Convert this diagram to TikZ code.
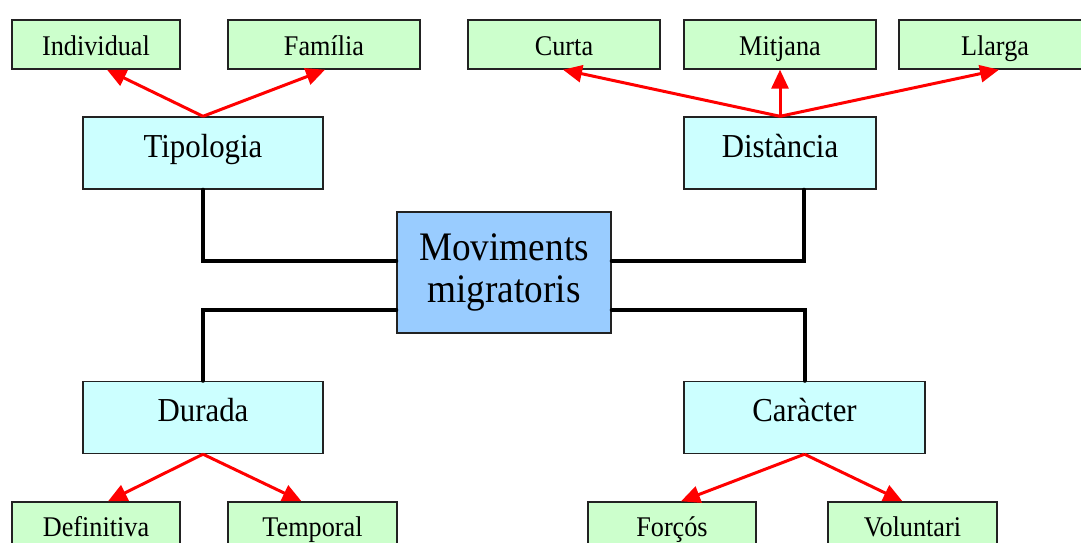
\documentclass[tikz,border=0pt]{standalone}
\usepackage{fontspec}
\setmainfont{Liberation Serif}[FakeStretch=0.92]
\usetikzlibrary{arrows.meta}
\definecolor{leafgreen}{HTML}{CCFFCC}
\definecolor{midcyan}{HTML}{CCFFFF}
\definecolor{mainblue}{HTML}{99CCFF}
\definecolor{edgegray}{HTML}{222222}
\tikzset{
  box/.style={draw=edgegray, line width=1.4pt, inner sep=0pt, align=center},
  leaf/.style={box, fill=leafgreen, minimum width=168pt, text height=36pt, text depth=13pt, font=\fontsize{28.5}{32}\selectfont},
  leafb/.style={leaf, text height=34pt, text depth=15pt},
  midbox/.style={box, fill=midcyan, minimum width=240pt, text height=40pt, text depth=32pt, font=\fontsize{33.5}{38}\selectfont},
  mainbox/.style={box, fill=mainblue, minimum width=214pt, minimum height=121pt, font=\fontsize{40.5}{42}\selectfont},
  conn/.style={line width=4pt, line cap=round, black},
  redarrow/.style={line width=3pt, red, -{Triangle[length=19pt,width=17pt]}}
}
\begin{document}
\begin{tikzpicture}[x=1pt, y=-1pt]
\clip (0,0) rectangle (1081,543);
\fill[white] (0,0) rectangle (1081,543);
% centre
\node[mainbox] (mm) at (504,272.5) {Moviments\\migratoris};
% second level
\node[midbox] (tip) at (203,153) {Tipologia};
\node[midbox, minimum width=192pt] (dist) at (780,153) {Distància};
\node[midbox] (dur) at (203,417.5) {Durada};
\node[midbox, minimum width=241pt] (car) at (804.5,417.5) {Caràcter};
% leaves top
\node[leaf] (ind) at (96,44.5) {Individual};
\node[leaf, minimum width=192pt] (fam) at (324,44.5) {Família};
\node[leaf, minimum width=192pt] (cur) at (564,44.5) {Curta};
\node[leaf, minimum width=192pt] (mit) at (780,44.5) {Mitjana};
\node[leaf, minimum width=192pt] (lla) at (995,44.5) {Llarga};
% leaves bottom
\node[leafb] (def) at (96,526.5) {Definitiva};
\node[leafb, minimum width=169pt] (tem) at (312.5,526.5) {Temporal};
\node[leafb] (for) at (672,526.5) {Forçós};
\node[leafb, minimum width=169pt] (vol) at (912.5,526.5) {Voluntari};
% black connectors
\draw[conn] (tip.south) |- ([yshift=11.5pt]mm.west);
\draw[conn] ([xshift=24pt]dist.south) |- ([yshift=11.5pt]mm.east);
\draw[conn] (dur.north) |- ([yshift=-37.5pt]mm.west);
\draw[conn] (car.north) |- ([yshift=-37.5pt]mm.east);
% red arrows
\draw[redarrow] (tip.north) -- ([xshift=11pt]ind.south);
\draw[redarrow] (tip.north) -- ([xshift=1pt]fam.south);
\draw[redarrow] (dist.north) -- ([xshift=-1pt]cur.south);
\draw[redarrow] (dist.north) -- (mit.south);
\draw[redarrow] (dist.north) -- ([xshift=4pt]lla.south);
\draw[redarrow] (dur.south) -- ([xshift=12pt]def.north);
\draw[redarrow] (dur.south) -- ([xshift=-11pt]tem.north);
\draw[redarrow] (car.south) -- ([xshift=9pt]for.north);
\draw[redarrow] (car.south) -- ([xshift=-10pt]vol.north);
\end{tikzpicture}
\end{document}
